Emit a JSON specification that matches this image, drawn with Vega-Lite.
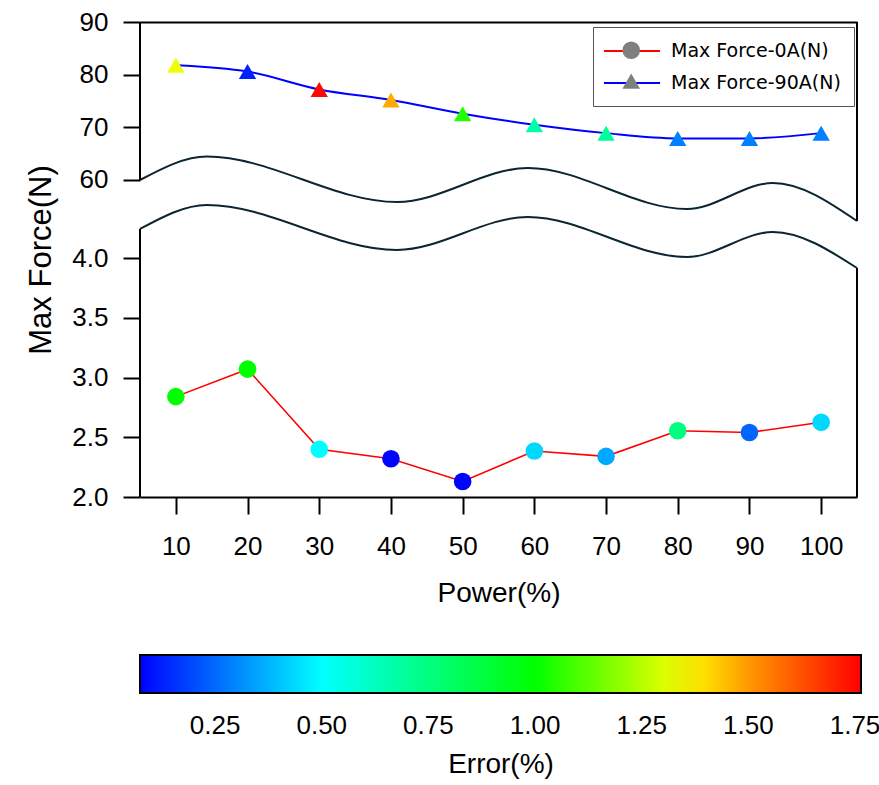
{
  "$schema": "https://vega.github.io/schema/vega-lite/v6.json",
  "width": 717,
  "height": 475,
  "autosize": {"type": "none"},
  "padding": {"left": 140, "top": 22, "right": 22, "bottom": 288},
  "background": "white",
  "config": {
    "view": {"stroke": null},
    "font": "Liberation Sans",
    "axis": {"grid": false, "domainColor": "black", "domainWidth": 2, "tickColor": "black", "tickWidth": 2, "tickSize": 17, "labelFontSize": 26, "labelColor": "black", "titleColor": "black", "titleFontWeight": "normal", "labelFlush": false}
  },
  "datasets": {
    "forces": [
      {"series": "Max Force-0A(N)", "power": 10, "force": 2.84, "error": 1.0},
      {"series": "Max Force-0A(N)", "power": 20, "force": 3.07, "error": 1.0},
      {"series": "Max Force-0A(N)", "power": 30, "force": 2.40, "error": 0.5},
      {"series": "Max Force-0A(N)", "power": 40, "force": 2.32, "error": 0.08},
      {"series": "Max Force-0A(N)", "power": 50, "force": 2.13, "error": 0.08},
      {"series": "Max Force-0A(N)", "power": 60, "force": 2.385, "error": 0.435},
      {"series": "Max Force-0A(N)", "power": 70, "force": 2.34, "error": 0.355},
      {"series": "Max Force-0A(N)", "power": 80, "force": 2.555, "error": 0.75},
      {"series": "Max Force-0A(N)", "power": 90, "force": 2.54, "error": 0.245},
      {"series": "Max Force-0A(N)", "power": 100, "force": 2.625, "error": 0.435},
      {"series": "Max Force-90A(N)", "power": 10, "force": 81.8, "error": 1.33},
      {"series": "Max Force-90A(N)", "power": 20, "force": 80.6, "error": 0.127},
      {"series": "Max Force-90A(N)", "power": 30, "force": 77.2, "error": 1.75},
      {"series": "Max Force-90A(N)", "power": 40, "force": 75.2, "error": 1.475},
      {"series": "Max Force-90A(N)", "power": 50, "force": 72.6, "error": 1.047},
      {"series": "Max Force-90A(N)", "power": 60, "force": 70.5, "error": 0.667},
      {"series": "Max Force-90A(N)", "power": 70, "force": 68.9, "error": 0.7},
      {"series": "Max Force-90A(N)", "power": 80, "force": 67.9, "error": 0.288},
      {"series": "Max Force-90A(N)", "power": 90, "force": 67.9, "error": 0.288},
      {"series": "Max Force-90A(N)", "power": 100, "force": 68.9, "error": 0.288}
    ],
    "brk": [
      {"bx": 5, "up": 60.0, "lo": 50.70},
      {"bx": 14.34, "up": 64.46, "lo": 55.25},
      {"bx": 40.84, "up": 55.82, "lo": 46.71},
      {"bx": 59.11, "up": 62.28, "lo": 52.98},
      {"bx": 81.29, "up": 54.49, "lo": 45.38},
      {"bx": 93.28, "up": 59.43, "lo": 50.13},
      {"bx": 105, "up": 52.22, "lo": 43.29}
    ]
  },
  "data": {"name": "forces"},
  "layer": [
    {
      "data": {"name": "brk"},
      "mark": {"type": "line", "interpolate": "monotone", "stroke": "#0b2533", "strokeWidth": 2},
      "encoding": {
        "x": {"field": "bx", "type": "quantitative", "scale": {"domain": [5, 105], "nice": false, "zero": false}, "axis": {"orient": "top", "ticks": false, "labels": false, "title": null, "domain": true}},
        "y": {"field": "up", "type": "quantitative", "scale": {"domain": [-0.19, 90], "nice": false, "zero": false}, "axis": null}
      }
    },
    {
      "data": {"name": "brk"},
      "mark": {"type": "line", "interpolate": "monotone", "stroke": "#0b2533", "strokeWidth": 2},
      "encoding": {
        "x": {"field": "bx", "type": "quantitative", "axis": null},
        "y": {"field": "lo", "type": "quantitative", "scale": {"domain": [-0.19, 90], "nice": false, "zero": false}, "axis": null}
      }
    },
    {
      "data": {"values": [{}]},
      "mark": {"type": "rule", "color": "black", "strokeWidth": 2},
      "encoding": {
        "x": {"datum": 5, "type": "quantitative", "axis": null},
        "y": {"datum": 60, "type": "quantitative", "scale": {"domain": [-0.19, 90], "nice": false, "zero": false}, "axis": null},
        "y2": {"datum": 90}
      }
    },
    {
      "data": {"values": [{}]},
      "mark": {"type": "rule", "color": "black", "strokeWidth": 2},
      "encoding": {
        "x": {"datum": 5, "type": "quantitative", "axis": null},
        "y": {"datum": -0.19, "type": "quantitative", "scale": {"domain": [-0.19, 90], "nice": false, "zero": false}, "axis": null},
        "y2": {"datum": 50.70}
      }
    },
    {
      "data": {"values": [{}]},
      "mark": {"type": "rule", "color": "black", "strokeWidth": 2},
      "encoding": {
        "x": {"datum": 105, "type": "quantitative", "axis": null},
        "y": {"datum": 52.22, "type": "quantitative", "scale": {"domain": [-0.19, 90], "nice": false, "zero": false}, "axis": null},
        "y2": {"datum": 90}
      }
    },
    {
      "data": {"values": [{}]},
      "mark": {"type": "rule", "color": "black", "strokeWidth": 2},
      "encoding": {
        "x": {"datum": 105, "type": "quantitative", "axis": null},
        "y": {"datum": -0.19, "type": "quantitative", "scale": {"domain": [-0.19, 90], "nice": false, "zero": false}, "axis": null},
        "y2": {"datum": 43.29}
      }
    },
    {
      "transform": [{"filter": "datum.series === 'Max Force-0A(N)'"}],
      "mark": {"type": "line", "strokeWidth": 1.6},
      "encoding": {
        "x": {"field": "power", "type": "quantitative", "axis": {"orient": "bottom", "values": [10, 20, 30, 40, 50, 60, 70, 80, 90, 100], "title": "Power(%)", "titleFontSize": 28, "labelPadding": 19, "titlePadding": 20}},
        "y": {"field": "force", "type": "quantitative", "scale": {"domain": [2, 5.975], "nice": false, "zero": false}, "axis": {"orient": "left", "values": [2, 2.5, 3, 3.5, 4], "format": ".1f", "domain": false, "title": "Max Force(N)", "titleFontSize": 31, "labelPadding": 15, "titlePadding": 14}},
        "stroke": {"field": "series", "type": "nominal", "scale": {"range": ["#ff0000", "#0000ff"]}, "legend": {"orient": "none", "legendX": 453, "legendY": 5, "title": null, "symbolType": "M-2.8,0H2.8", "symbolSize": 400, "symbolStrokeWidth": 2, "labelFont": "DejaVu Sans", "labelFontSize": 19, "labelLimit": 400, "labelColor": "black", "labelOffset": 28, "symbolOffset": 15, "padding": 13, "rowPadding": 11, "fillColor": "white", "strokeColor": "#555555", "zindex": 1}}
      }
    },
    {
      "transform": [{"filter": "datum.series === 'Max Force-90A(N)'"}],
      "mark": {"type": "line", "strokeWidth": 2, "interpolate": "monotone"},
      "encoding": {
        "x": {"field": "power", "type": "quantitative", "axis": null},
        "y": {"field": "force", "type": "quantitative", "scale": {"domain": [-0.19, 90], "nice": false, "zero": false}, "axis": {"orient": "left", "values": [60, 70, 80, 90], "domain": false, "title": null, "labelPadding": 15}},
        "stroke": {"field": "series", "type": "nominal", "scale": {"range": ["#ff0000", "#0000ff"]}, "legend": {"orient": "none", "legendX": 453, "legendY": 5, "title": null, "symbolType": "M-2.8,0H2.8", "symbolSize": 400, "symbolStrokeWidth": 2, "labelFont": "DejaVu Sans", "labelFontSize": 19, "labelLimit": 400, "labelColor": "black", "labelOffset": 28, "symbolOffset": 15, "padding": 13, "rowPadding": 11, "fillColor": "white", "strokeColor": "#555555", "zindex": 1}}
      }
    },
    {
      "transform": [{"filter": "datum.series === 'Max Force-0A(N)'"}],
      "mark": {"type": "point", "filled": true, "opacity": 1, "size": 310, "strokeWidth": 0},
      "encoding": {
        "x": {"field": "power", "type": "quantitative", "axis": null},
        "y": {"field": "force", "type": "quantitative", "scale": {"domain": [2, 5.975], "nice": false, "zero": false}, "axis": null},
        "fill": {"field": "error", "type": "quantitative", "scale": {"type": "linear", "domain": [0.074, 0.5, 1.0, 1.35, 1.5, 1.764], "range": ["#0000ff", "#00ffff", "#00ff00", "#ffff00", "#ff9900", "#ff0000"], "interpolate": "rgb"}, "legend": {"orient": "none", "direction": "horizontal", "legendX": 0, "legendY": 633, "padding": 0, "gradientLength": 721, "gradientThickness": 38, "gradientStrokeColor": "black", "gradientStrokeWidth": 2, "values": [0.25, 0.5, 0.75, 1.0, 1.25, 1.5, 1.75], "format": ".2f", "labelFontSize": 26, "labelColor": "black", "labelOffset": 20, "title": "Error(%)", "titleOrient": "bottom", "titleAnchor": "middle", "titleFontSize": 28, "titleFontWeight": "normal", "titleColor": "black", "titlePadding": 12}},
        "shape": {"field": "series", "type": "nominal", "scale": {"domain": ["Max Force-0A(N)", "Max Force-90A(N)"], "range": ["circle", "triangle-up"]}, "legend": {"orient": "none", "legendX": 482.2, "legendY": 19.2, "title": null, "symbolSize": 310, "symbolFillColor": "#7f7f7f", "symbolStrokeColor": "#7f7f7f", "symbolStrokeWidth": 0, "rowPadding": 13, "padding": 0, "labelExpr": "''", "labelFontSize": 10, "zindex": 2}}
      }
    },
    {
      "transform": [{"filter": "datum.series === 'Max Force-90A(N)'"}],
      "mark": {"type": "point", "filled": true, "opacity": 1, "size": 300, "strokeWidth": 0},
      "encoding": {
        "x": {"field": "power", "type": "quantitative", "axis": null},
        "y": {"field": "force", "type": "quantitative", "scale": {"domain": [-0.19, 90], "nice": false, "zero": false}, "axis": null},
        "fill": {"field": "error", "type": "quantitative"},
        "shape": {"field": "series", "type": "nominal"}
      }
    }
  ],
  "resolve": {"scale": {"y": "independent"}, "axis": {"x": "independent", "y": "independent"}}
}
